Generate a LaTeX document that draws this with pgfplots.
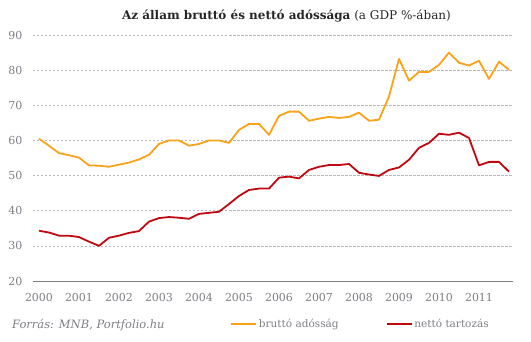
\documentclass[border=0pt]{standalone}
\usepackage{fontspec}
\setmainfont{DejaVu Serif}
\usepackage{pgfplots}
\pgfplotsset{compat=1.18}
\definecolor{gross}{RGB}{250,163,26}
\definecolor{net}{RGB}{192,8,16}
\definecolor{lbl}{RGB}{125,125,132}
\begin{document}
\begin{tikzpicture}
\begin{axis}[
  scale only axis, width=480bp, height=246bp,
  xmin=1999.85, xmax=2011.85, ymin=20, ymax=90,
  xtick={2000,2001,2002,2003,2004,2005,2006,2007,2008,2009,2010,2011},
  xticklabels={2000,2001,2002,2003,2004,2005,2006,2007,2008,2009,2010,2011},
  ytick={20,30,40,50,60,70,80,90},
  axis x line=bottom, axis y line=left, axis line style={-},
  x axis line style={draw=lbl, line width=0.8bp},
  y axis line style={draw=none},
  major tick length=0pt,
  ymajorgrids, grid style={draw=gray!55, line width=0.6bp, dash pattern=on 2.5bp off 1.5bp},
  /pgf/number format/assume math mode=true,
  tick label style={font=\fontsize{11bp}{12bp}\selectfont, text=lbl},
  xticklabel style={anchor=center, yshift=-16bp},
  yticklabel style={anchor=east, xshift=-7bp},
  legend columns=2,
  legend style={draw=none, fill=none, at={(197bp,-43bp)}, anchor=west, inner sep=0pt,
    font=\fontsize{10.5bp}{12bp}\selectfont, text=lbl,
    /tikz/every even column/.append style={column sep=45bp}},
  legend image code/.code={\draw[#1] (0bp,0bp) -- (25bp,0bp);},
  every axis plot/.append style={line width=1.8bp, line join=round},
]
\addplot[gross] coordinates {
(2000.00,60.5)(2000.25,58.5)(2000.50,56.4)(2000.75,55.8)
(2001.00,55.1)(2001.25,52.9)(2001.50,52.8)(2001.75,52.5)
(2002.00,53.1)(2002.25,53.7)(2002.50,54.6)(2002.75,55.9)
(2003.00,59.0)(2003.25,60.0)(2003.50,60.0)(2003.75,58.5)
(2004.00,59.0)(2004.25,60.0)(2004.50,60.0)(2004.75,59.3)
(2005.00,63.0)(2005.25,64.7)(2005.50,64.7)(2005.75,61.6)
(2006.00,67.0)(2006.25,68.2)(2006.50,68.2)(2006.75,65.6)
(2007.00,66.2)(2007.25,66.7)(2007.50,66.4)(2007.75,66.7)
(2008.00,67.9)(2008.25,65.6)(2008.50,65.9)(2008.75,72.5)
(2009.00,83.2)(2009.25,77.0)(2009.50,79.5)(2009.75,79.5)
(2010.00,81.5)(2010.25,85.0)(2010.50,82.1)(2010.75,81.3)
(2011.00,82.7)(2011.25,77.5)(2011.50,82.4)(2011.75,80.1)
};
\addlegendentry{bruttó adósság}
\addplot[net] coordinates {
(2000.00,34.3)(2000.25,33.8)(2000.50,32.9)(2000.75,32.9)
(2001.00,32.5)(2001.25,31.2)(2001.50,30.0)(2001.75,32.3)
(2002.00,32.9)(2002.25,33.7)(2002.50,34.2)(2002.75,36.9)
(2003.00,37.9)(2003.25,38.2)(2003.50,38.0)(2003.75,37.7)
(2004.00,39.1)(2004.25,39.4)(2004.50,39.7)(2004.75,41.9)
(2005.00,44.2)(2005.25,45.9)(2005.50,46.3)(2005.75,46.3)
(2006.00,49.4)(2006.25,49.7)(2006.50,49.2)(2006.75,51.6)
(2007.00,52.5)(2007.25,53.0)(2007.50,53.0)(2007.75,53.3)
(2008.00,50.8)(2008.25,50.3)(2008.50,49.9)(2008.75,51.6)
(2009.00,52.3)(2009.25,54.5)(2009.50,57.9)(2009.75,59.3)
(2010.00,61.9)(2010.25,61.6)(2010.50,62.2)(2010.75,60.7)
(2011.00,52.9)(2011.25,53.9)(2011.50,53.9)(2011.75,51.1)
};
\addlegendentry{nettó tartozás}
\end{axis}
\node[anchor=base, inner sep=0pt, text=black!85, font=\fontsize{12bp}{14bp}\selectfont] at (253.5bp,261bp) {\textbf{Az állam bruttó és nettó adóssága} (a GDP \%-ában)};
\node[anchor=west, inner sep=0pt, text=lbl, font=\fontsize{11.5bp}{13bp}\selectfont\itshape] at (-21bp,-44bp) {Forrás: MNB, Portfolio.hu};
\useasboundingbox (-33bp,-61bp) rectangle (498bp,281bp);
\end{tikzpicture}
\end{document}
